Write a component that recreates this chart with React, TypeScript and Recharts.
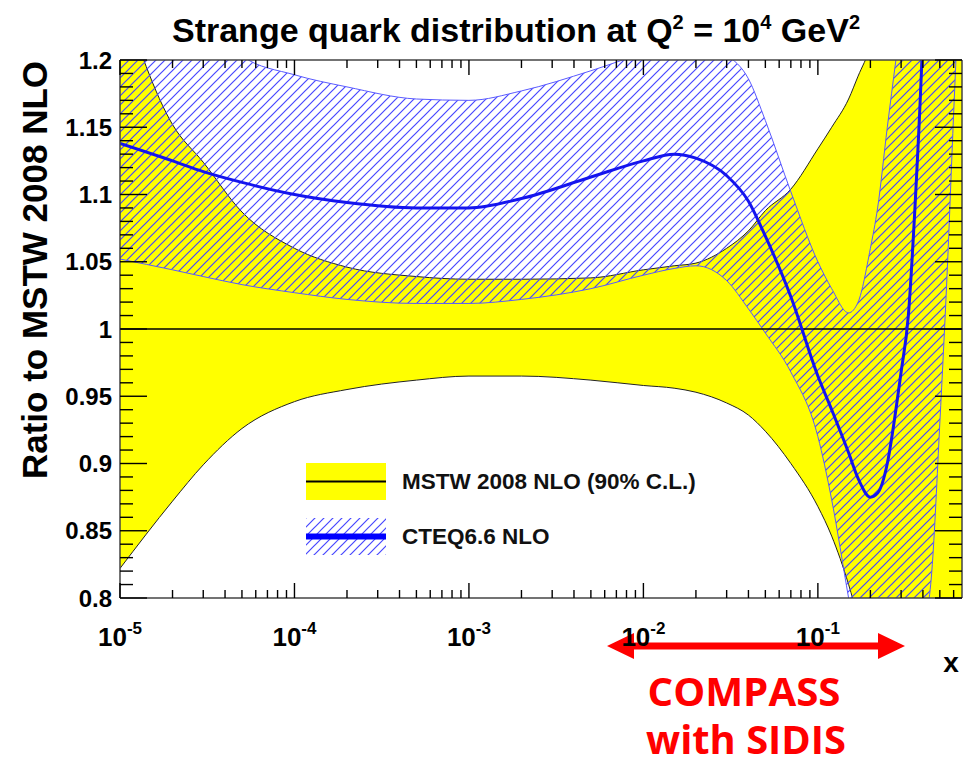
import { Area, ComposedChart, Legend, Line, ReferenceLine, XAxis, YAxis } from 'recharts'

const FONT = "'Liberation Sans', Arial, Helvetica, sans-serif"

// x grid (log scale)
const xValues = [1e-5, 2e-5, 3e-5, 5e-5, 1e-4, 2e-4, 5e-4, 1e-3, 2e-3, 5e-3, 1e-2, 1.5e-2, 2e-2, 3e-2, 4e-2, 5e-2, 7e-2, 0.1, 0.12, 0.15, 0.17, 0.2, 0.22, 0.25, 0.28, 0.3, 0.33, 0.36, 0.4, 0.45, 0.5, 0.55, 0.6, 0.67]

// MSTW 2008 NLO 90% C.L. band (ratio to itself)
const mstwLow = [0.822, 0.872, 0.899, 0.926, 0.946, 0.955, 0.962, 0.965, 0.965, 0.962, 0.958, 0.956, 0.953, 0.945, 0.936, 0.924, 0.9, 0.868, 0.846, 0.81, 0.785, 0.75, 0.73, 0.7, 0.67, 0.65, 0.62, 0.6, 0.57, 0.54, 0.5, 0.46, 0.42, 0.38]
const mstwHigh = [1.25, 1.152, 1.124, 1.087, 1.06, 1.046, 1.039, 1.037, 1.037, 1.038, 1.044, 1.047, 1.049, 1.06, 1.073, 1.088, 1.104, 1.134, 1.15, 1.171, 1.188, 1.21, 1.23, 1.26, 1.3, 1.32, 1.36, 1.4, 1.45, 1.5, 1.6, 1.7, 1.8, 1.9]

// CTEQ6.6 NLO band and central value
const cteqLow = [1.052, 1.044, 1.039, 1.033, 1.027, 1.022, 1.019, 1.019, 1.022, 1.03, 1.04, 1.045, 1.047, 1.036, 1.015, 0.997, 0.968, 0.92, 0.873, 0.8, 0.76, 0.72, 0.7, 0.69, 0.7, 0.71, 0.73, 0.75, 0.775, 0.82, 0.93, 1.04, 1.16, 1.3]
const cteqHigh = [1.32, 1.27, 1.24, 1.203, 1.189, 1.18, 1.171, 1.17, 1.177, 1.192, 1.205, 1.211, 1.215, 1.204, 1.186, 1.155, 1.102, 1.05, 1.03, 1.012, 1.02, 1.06, 1.09, 1.15, 1.2, 1.23, 1.28, 1.33, 1.4, 1.5, 1.6, 1.8, 2.0, 2.3]
const cteqCentral = [1.138, 1.125, 1.117, 1.109, 1.1, 1.094, 1.09, 1.09, 1.097, 1.113, 1.125, 1.13, 1.127, 1.114, 1.095, 1.069, 1.024, 0.965, 0.94, 0.908, 0.889, 0.875, 0.878, 0.9, 0.94, 0.968, 1.01, 1.09, 1.22, 1.45, 1.6, 1.8, 2.0, 2.2]

// ticks
const xDecades = [1e-5, 1e-4, 1e-3, 1e-2, 1e-1]
const xMantissas = [1, 2, 3, 4, 5, 6, 7, 8, 9]
const xExponents = ['-5', '-4', '-3', '-2', '-1']
const yTickLabels = ['0.8', '0.85', '0.9', '0.95', '1', '1.05', '1.1', '1.15', '1.2']

const X_MAX = 0.67
const xTicks = xDecades.flatMap((d) => xMantissas.map((m) => m * d)).filter((v) => v <= X_MAX)
const yTicks = Array.from({ length: 41 }, (_, i) => Math.round(80 + i) / 100)

const chartData = xValues.map((x, i) => ({
    x,
    mstw: [mstwLow[i], mstwHigh[i]],
    cteq: [cteqLow[i], cteqHigh[i]],
    central: cteqCentral[i],
}))

const isMajorX = (v: number) => {
    const e = Math.log10(v)
    return Math.abs(e - Math.round(e)) < 1e-6
}
const isMajorY = (v: number) => Math.abs(v * 20 - Math.round(v * 20)) < 1e-6

function BottomTick({ x, y, payload }: any) {
    const v = payload.value
    const major = isMajorX(v)
    const idx = Math.round(Math.log10(v)) + 5
    return (
        <g>
            <line x1={x} x2={x} y1={y} y2={y - (major ? 15 : 8)} stroke='#000' strokeWidth={1.4} />
            {major && (
                <text x={x} y={y + 48} textAnchor='middle' fontFamily={FONT} fontWeight='bold' fontSize={26} fill='#000'>
                    10<tspan dy={-12} fontSize={17}>{xExponents[idx]}</tspan>
                </text>
            )}
        </g>
    )
}

function TopTick({ x, y, payload }: any) {
    const major = isMajorX(payload.value)
    return <line x1={x} x2={x} y1={y} y2={y + (major ? 15 : 8)} stroke='#000' strokeWidth={1.4} />
}

function LeftTick({ x, y, payload }: any) {
    const v = payload.value
    const major = isMajorY(v)
    return (
        <g>
            <line x1={x} x2={x + (major ? 27 : 13)} y1={y} y2={y} stroke='#000' strokeWidth={1.4} />
            {major && (
                <text x={x - 8} y={y} dy='0.36em' textAnchor='end' fontFamily={FONT} fontWeight='bold' fontSize={24} fill='#000'>
                    {yTickLabels[Math.round((v - 0.8) * 20)]}
                </text>
            )}
        </g>
    )
}

function RightTick({ x, y, payload }: any) {
    const major = isMajorY(payload.value)
    return <line x1={x} x2={x - (major ? 27 : 13)} y1={y} y2={y} stroke='#000' strokeWidth={1.4} />
}

function HatchLines({ id }: { id: string }) {
    return (
        <pattern id={id} patternUnits='userSpaceOnUse' width={9} height={9}>
            <path d='M0,9 L9,0 M-2.25,2.25 L2.25,-2.25 M6.75,11.25 L11.25,6.75' stroke='#4646ff' strokeWidth={1.2} />
        </pattern>
    )
}

function LegendBox() {
    return (
        <div style={{ fontFamily: FONT, fontWeight: 'bold', fontSize: 22.5, color: '#111' }}>
            <div style={{ display: 'flex', alignItems: 'center', height: 37, marginBottom: 18 }}>
                <svg width={80} height={37}>
                    <rect x={0} y={0} width={80} height={37} fill='#ffff00' />
                    <line x1={0} x2={80} y1={18.5} y2={18.5} stroke='#000' strokeWidth={2} />
                </svg>
                <span style={{ marginLeft: 16, whiteSpace: 'nowrap' }}>MSTW 2008 NLO (90% C.L.)</span>
            </div>
            <div style={{ display: 'flex', alignItems: 'center', height: 37 }}>
                <svg width={80} height={37}>
                    <defs>
                        <HatchLines id='legendHatch' />
                    </defs>
                    <rect x={0} y={0} width={80} height={37} fill='url(#legendHatch)' />
                    <line x1={0} x2={80} y1={18.5} y2={18.5} stroke='#0000ff' strokeWidth={6} />
                </svg>
                <span style={{ marginLeft: 16, whiteSpace: 'nowrap' }}>CTEQ6.6 NLO</span>
            </div>
        </div>
    )
}

export default function App() {
    return (
        <div style={{ position: 'absolute', left: 0, top: 0, width: 967, height: 765, background: '#fff' }}>
            <ComposedChart width={967} height={765} data={chartData} margin={{ top: 58, right: 0, bottom: 117, left: 60 }}>
                <defs>
                    <HatchLines id='cteqHatch' />
                </defs>
                <Area
                    dataKey='mstw'
                    type='monotone'
                    fill='#ffff00'
                    fillOpacity={1}
                    stroke='#222'
                    strokeWidth={1}
                    dot={false}
                    activeDot={false}
                    isAnimationActive={false}
                />
                <Area
                    dataKey='cteq'
                    type='monotone'
                    fill='url(#cteqHatch)'
                    fillOpacity={1}
                    stroke='#5a5aff'
                    strokeWidth={1}
                    dot={false}
                    activeDot={false}
                    isAnimationActive={false}
                />
                <ReferenceLine y={1} stroke='#000' strokeWidth={1.6} />
                <Line
                    dataKey='central'
                    type='monotone'
                    stroke='#1414ee'
                    strokeWidth={3}
                    dot={false}
                    activeDot={false}
                    isAnimationActive={false}
                />
                <XAxis
                    dataKey='x'
                    type='number'
                    scale='log'
                    domain={[1e-5, X_MAX]}
                    allowDataOverflow
                    ticks={xTicks}
                    interval={0}
                    height={50}
                    tickSize={0}
                    tickMargin={0}
                    tick={<BottomTick />}
                    axisLine={{ stroke: '#444', strokeWidth: 1.5 }}
                />
                <XAxis
                    xAxisId='top'
                    orientation='top'
                    dataKey='x'
                    type='number'
                    scale='log'
                    domain={[1e-5, X_MAX]}
                    allowDataOverflow
                    ticks={xTicks}
                    interval={0}
                    height={2}
                    tickSize={0}
                    tickMargin={0}
                    tick={<TopTick />}
                    axisLine={{ stroke: '#444', strokeWidth: 1.5 }}
                />
                <YAxis
                    type='number'
                    domain={[0.8, 1.2]}
                    allowDataOverflow
                    ticks={yTicks}
                    interval={0}
                    width={60}
                    tickSize={0}
                    tickMargin={0}
                    tick={<LeftTick />}
                    axisLine={{ stroke: '#444', strokeWidth: 1.5 }}
                />
                <YAxis
                    yAxisId='right'
                    orientation='right'
                    type='number'
                    domain={[0.8, 1.2]}
                    allowDataOverflow
                    ticks={yTicks}
                    interval={0}
                    width={5}
                    tickSize={0}
                    tickMargin={0}
                    tick={<RightTick />}
                    axisLine={{ stroke: '#444', strokeWidth: 1.5 }}
                />
                <Legend
                    layout='vertical'
                    align='center'
                    verticalAlign='middle'
                    content={() => <LegendBox />}
                    wrapperStyle={{ left: 306, top: 463, width: 420, height: 92 }}
                />
                <text x={516} y={42} textAnchor='middle' fontFamily={FONT} fontWeight='bold' fontSize={34} fill='#000'>
                    Strange quark distribution at Q<tspan dy={-13} fontSize={20}>2</tspan>
                    <tspan dy={13}> = 10</tspan>
                    <tspan dy={-13} fontSize={20}>4</tspan>
                    <tspan dy={13}> GeV</tspan>
                    <tspan dy={-13} fontSize={20}>2</tspan>
                </text>
                <text transform='translate(47,270) rotate(-90)' textAnchor='middle' fontFamily={FONT} fontWeight='bold' fontSize={35} fill='#000'>
                    Ratio to MSTW 2008 NLO
                </text>
                <text x={951} y={672} textAnchor='middle' fontFamily={FONT} fontWeight='bold' fontSize={28} fill='#000'>
                    x
                </text>
                <polygon
                    points='607,646 634,633 634,642.5 878,642.5 878,633 905,646 878,659 878,649.5 634,649.5 634,659'
                    fill='#ff0000'
                />
                <text x={744} y={706} textAnchor='middle' fontFamily="'Open Sans', sans-serif" fontWeight='bold' fontSize={40} fill='#ff0000' textLength={193} lengthAdjust='spacingAndGlyphs'>
                    COMPASS
                </text>
                <text x={746} y={754} textAnchor='middle' fontFamily="'Open Sans', sans-serif" fontWeight='bold' fontSize={40} fill='#ff0000' textLength={200} lengthAdjust='spacingAndGlyphs'>
                    with SIDIS
                </text>
            </ComposedChart>
        </div>
    )
}
